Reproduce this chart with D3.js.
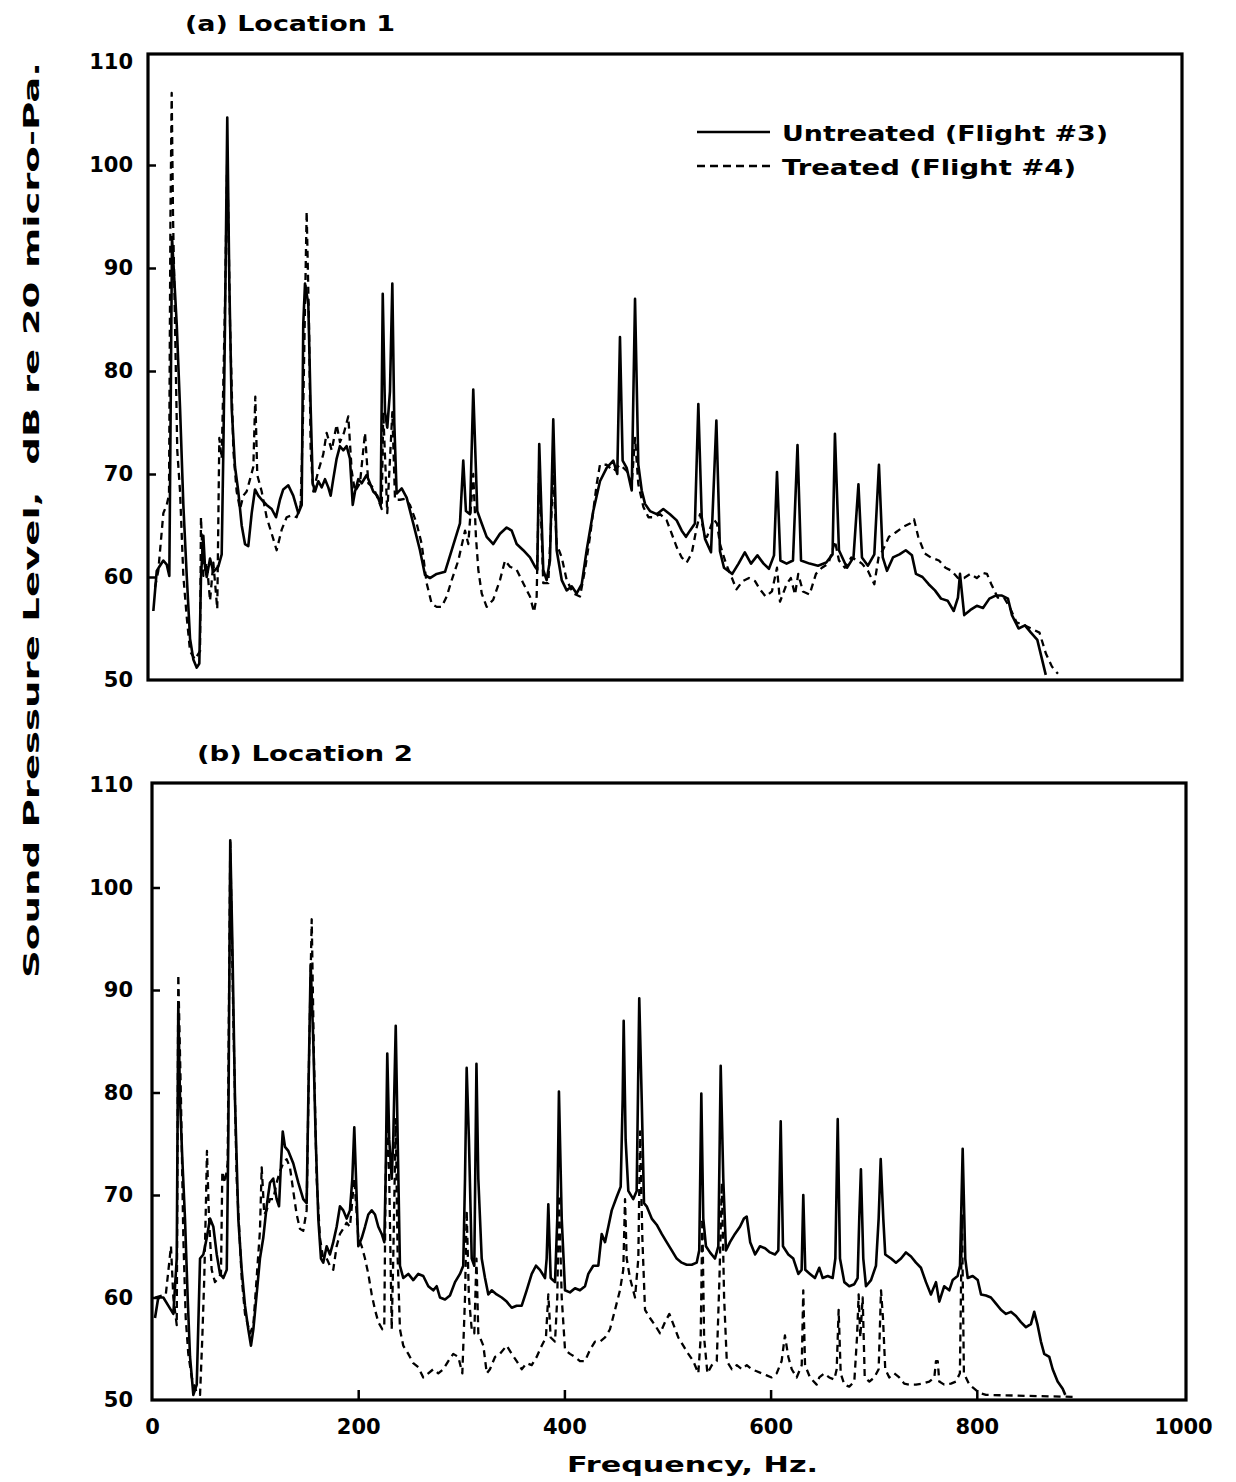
<!DOCTYPE html>
<html><head><meta charset="utf-8">
<script src="https://cdn.jsdelivr.net/npm/d3@7"></script>
<style>body{margin:0;background:#fff} svg{display:block}</style>
</head><body><svg id="c" width="1236" height="1482"></svg>
<script>
// ---- data: [frequency Hz, SPL dB] ----
const xTickValues = [0, 200, 400, 600, 800, 1000];
const yTickValues = [50, 60, 70, 80, 90, 100, 110];
const panelTitles = ["(a) Location 1", "(b) Location 2"];
const seriesNames = ["Untreated (Flight #3)", "Treated (Flight #4)"];

const loc1Untreated = [[1.3,56.7],[4.6,60.6],[7.1,61.0],[11.0,61.6],[14.3,61.2],[16.8,60.1],[18.4,80],[19.4,93],[24.0,84.5],[27.2,76.4],[30.4,67],[33.7,60.1],[36.9,54],[40.1,52],[43.4,51.2],[45.9,51.6],[47.5,60],[49.8,64],[51.4,61],[53.1,60],[56.3,61.8],[59.5,60.5],[64.3,61],[67.6,62.2],[69.2,72.3],[70.8,84.5],[73.0,104.6],[75.0,88.6],[77.3,76.4],[80.5,70.7],[83.7,68.3],[87.0,65],[90.2,63.2],[93.4,63],[96.7,66.2],[99.9,68.5],[103.1,67.9],[106.4,67.5],[111.2,67],[116.1,66.6],[120.3,65.8],[124.1,67.5],[127.3,68.5],[132.2,68.9],[137.0,67.9],[141.9,66.2],[145.2,67],[146.7,84.5],[148.4,88.5],[151.6,86.5],[153.9,76.4],[155.9,69.1],[158.1,68.3],[161.3,69.3],[164.6,68.7],[167.8,69.5],[171.0,68.7],[173.3,67.9],[175.8,69.5],[179.1,71.5],[182.3,72.7],[185.5,72.3],[188.8,72.7],[192.0,71.5],[194.7,67],[196.9,68.3],[200.1,69.5],[203.4,69.1],[208.2,69.9],[211.4,69.1],[214.6,68.3],[218.5,67.9],[221.8,67],[223.8,87.5],[226.0,76],[228.2,74.5],[230.8,78],[233.1,88.5],[235.0,75],[237.3,68.1],[242.2,68.6],[247.0,67.7],[253.4,65.2],[259.9,62.6],[264.8,60.2],[269.6,59.9],[276.1,60.3],[284.2,60.5],[290.7,62.6],[298.7,65.2],[301.9,71.3],[304.5,66.4],[308.4,66.1],[311.6,78.2],[315.5,66.4],[319.8,65.2],[324.6,63.9],[331.0,63.2],[337.5,64.2],[344.0,64.8],[348.9,64.5],[353.7,63.2],[360.1,62.6],[366.6,61.9],[371.5,61.0],[373.7,60.7],[375.6,72.9],[379.5,60.7],[382.8,59.7],[386.0,61.6],[389.2,75.3],[392.5,62.6],[397.4,59.7],[402.2,58.7],[407.1,59.1],[411.9,58.4],[416.8,59.3],[421.6,62.6],[428.0,66.4],[434.5,69.3],[441.0,70.6],[447.4,71.3],[451.3,70.0],[453.9,83.3],[456.5,71.3],[460.4,70.6],[465.3,68.4],[468.5,87.0],[471.7,70.9],[475.0,68.4],[478.2,67.1],[483.0,66.4],[489.5,66.1],[495.9,66.6],[502.4,66.1],[508.9,65.5],[513.8,64.5],[517.9,63.9],[521.8,64.5],[526.6,65.2],[529.9,76.8],[533.2,65.8],[536.4,63.7],[542.2,62.4],[547.4,75.2],[550.9,62.5],[554.8,60.9],[562.8,60.3],[568.9,61.3],[575.0,62.4],[581.0,61.3],[587.2,62.1],[593.2,61.3],[598.4,60.8],[603.3,62.1],[606.2,70.2],[609.5,61.6],[615.5,61.3],[621.7,61.6],[626.1,72.8],[629.5,61.6],[637.8,61.3],[646.0,61.1],[654.0,61.4],[660.1,62.2],[662.4,73.9],[666.3,62.6],[674.1,60.9],[680.4,61.9],[685.2,69.0],[688.6,61.9],[694.4,61.1],[700.6,62.2],[705.1,70.9],[708.8,61.9],[712.9,60.6],[718.7,61.9],[725.0,62.2],[731.1,62.6],[737.1,62.1],[741.0,60.3],[747.3,60.0],[753.3,59.3],[759.4,58.7],[765.3,57.9],[771.7,57.7],[777.6,56.7],[781.7,58.0],[783.7,60.3],[787.8,56.3],[793.8,56.8],[800.0,57.2],[806.0,57.0],[812.2,57.9],[818.2,58.2],[824.4,58.2],[830.2,57.9],[834.1,56.3],[840.5,55.0],[846.7,55.3],[852.5,54.6],[858.7,53.9],[862.8,52.2],[866.9,50.5]];

const loc1Treated = [[2.9,59.0],[6.1,60.6],[11.0,66.2],[14.3,67.0],[16.5,68],[17.9,95],[19.1,107],[20.4,95],[21.6,88.6],[24.5,72.3],[27.2,68.3],[30.4,60.1],[33.7,56.1],[36.9,52.8],[41.7,52.0],[46.6,52.8],[47.5,65.8],[49.8,60.1],[53.1,61.4],[56.3,57.7],[59.5,61.4],[63.3,56.9],[65.3,73.5],[67.6,71.5],[70.8,86.5],[73.0,101],[75.7,84.5],[78.9,72.3],[82.1,68.3],[85.4,66.6],[88.6,67.9],[91.8,68.3],[95.1,69.5],[98.3,70.7],[100.2,77.5],[102.1,69.9],[106.4,68.3],[111.2,65.8],[116.1,64.2],[120.9,62.6],[125.8,64.6],[130.6,65.8],[135.5,66.0],[140.3,65.8],[144.2,67.0],[146.7,76.4],[150.0,95.5],[152.3,84.5],[153.9,72.3],[156.4,68.3],[161.3,70.3],[166.1,71.9],[169.4,74.0],[174.3,72.3],[179.1,74.8],[182.3,73.1],[186.2,74.0],[190.4,75.6],[193.7,70.3],[196.9,68.3],[201.7,69.1],[206.6,74.0],[209.8,69.1],[214.6,68.7],[219.5,67.5],[222.8,66.6],[224.3,76.0],[228.2,66.2],[233.1,76.0],[235.7,67.5],[240.5,67.5],[245.4,67.6],[250.2,67.0],[256.7,65.2],[261.6,63.2],[266.4,59.4],[271.3,57.4],[276.1,57.1],[281.0,57.1],[285.8,58.1],[290.7,59.7],[297.1,61.6],[303.6,64.5],[306.8,63.2],[311.6,70.0],[314.2,63.9],[316.5,60.7],[319.8,58.4],[324.6,57.1],[331.0,57.8],[337.5,59.7],[342.4,61.6],[347.2,61.0],[353.7,60.7],[360.1,59.4],[366.6,58.1],[370.5,56.6],[373.1,58.1],[375.6,71.0],[379.5,59.4],[384.4,59.4],[389.2,70.0],[392.5,63.2],[397.4,61.9],[402.2,59.7],[408.7,58.4],[415.1,58.1],[420.0,60.7],[424.8,63.9],[431.3,69.0],[434.5,70.9],[441.0,70.9],[447.4,70.3],[453.9,70.9],[460.4,70.3],[465.3,69.0],[468.5,73.5],[471.7,69.0],[476.6,66.8],[481.5,65.8],[486.3,65.8],[492.8,66.1],[499.2,65.5],[504.1,64.2],[508.9,62.9],[513.8,61.9],[518.6,61.4],[523.5,62.3],[528.3,64.8],[531.5,66.1],[536.4,63.9],[538.3,63.9],[544.6,65.6],[548.0,65.2],[550.9,63.2],[556.7,61.3],[562.5,59.9],[566.9,58.8],[572.9,59.6],[579.0,59.9],[584.9,59.6],[589.7,58.8],[595.2,58.1],[601.3,58.6],[606.2,60.9],[609.1,57.6],[615.5,59.3],[619.6,59.9],[623.7,58.3],[626.8,60.3],[631.4,58.6],[637.8,58.3],[644.0,60.3],[649.8,60.9],[656.0,61.3],[660.1,62.6],[662.4,63.5],[666.3,61.6],[672.1,60.9],[678.3,61.9],[684.4,61.6],[688.6,61.3],[694.4,60.6],[700.6,59.3],[704.7,61.9],[708.8,62.6],[714.8,63.9],[720.9,64.3],[729.1,64.9],[735.2,65.2],[739.1,65.6],[743.2,63.9],[749.4,62.3],[755.4,61.9],[763.3,61.6],[769.6,60.9],[775.6,60.6],[781.7,59.9],[787.6,59.9],[793.8,60.3],[800.0,59.9],[806.0,60.4],[809.9,60.3],[814.1,59.3],[820.2,58.0],[826.3,58.0],[832.2,57.0],[838.5,55.6],[846.7,55.3],[854.5,54.9],[860.8,54.6],[866.9,52.6],[872.9,51.3],[878.7,50.6]];

const loc2Untreated = [[2.9,58.0],[6.1,60.0],[11.0,60.0],[15.8,59.2],[20.7,58.4],[24.0,63.8],[25.5,88.6],[27.2,79.3],[29.4,73.5],[32.0,67.7],[34.6,60.0],[36.9,54.2],[40.1,50.5],[43.4,51.5],[46.6,63.8],[49.8,64.2],[53.1,65.8],[56.3,67.7],[59.5,66.9],[62.8,64.2],[66.0,62.3],[69.2,61.9],[72.5,62.7],[74.0,75.4],[75.9,104.6],[77.9,94.8],[80.5,79.3],[83.7,67.7],[87.0,62.7],[90.2,59.2],[93.4,56.9],[96.0,55.3],[98.3,56.9],[101.5,60.3],[104.7,63.8],[107.9,65.8],[111.2,68.9],[114.4,71.2],[117.6,71.6],[120.9,69.6],[123.2,68.9],[125.1,73.1],[126.8,76.2],[129.0,74.7],[132.2,74.3],[137.0,73.1],[141.9,71.2],[146.7,69.6],[150.0,69.2],[151.6,79.3],[153.9,92.5],[156.4,85.1],[158.8,75.4],[161.3,67.7],[163.9,63.8],[166.1,63.4],[169.4,65.0],[172.6,64.2],[175.8,65.4],[179.1,66.9],[182.3,68.9],[185.5,68.5],[188.8,67.7],[192.0,68.5],[194.3,71.6],[196.2,76.6],[197.9,71.6],[200.1,65.0],[203.4,65.8],[206.6,66.9],[209.8,68.1],[213.1,68.5],[216.3,68.1],[219.5,66.9],[222.8,66.2],[225.3,65.4],[226.6,71.6],[228.2,83.8],[230.1,75.4],[232.5,71.6],[234.0,75.4],[236.4,86.5],[238.3,75.4],[240.5,63.1],[243.7,61.9],[248.6,62.3],[253.4,61.7],[258.3,62.3],[263.1,62.1],[268.0,61.1],[272.8,60.7],[276.1,61.1],[279.3,60.0],[284.2,59.8],[289.0,60.2],[293.9,61.5],[298.7,62.3],[301.9,63.1],[303.6,71.6],[305.2,82.4],[307.4,75.4],[310.1,63.8],[312.6,63.1],[314.7,82.8],[316.5,71.6],[319.8,63.8],[323.0,61.9],[326.2,60.3],[329.5,60.7],[334.3,60.3],[339.2,60.0],[344.0,59.6],[348.9,59.0],[353.7,59.2],[358.6,59.2],[363.4,60.7],[368.3,62.3],[372.4,63.1],[376.3,62.7],[381.2,61.9],[382.8,63.8],[384.4,69.1],[386.7,61.9],[390.9,61.5],[393.1,67.7],[394.7,80.1],[397.4,67.7],[400.6,60.7],[405.4,60.5],[410.3,60.9],[415.1,60.7],[420.0,61.1],[423.2,62.3],[428.0,63.1],[432.9,63.1],[436.2,66.2],[439.4,65.4],[442.6,66.9],[445.9,68.5],[450.7,69.8],[454.6,70.8],[456.5,79.3],[457.5,87.0],[459.4,75.4],[462.0,70.4],[466.8,69.6],[470.1,70.4],[472.6,89.2],[475.0,79.3],[477.2,69.2],[479.8,68.9],[484.7,67.7],[489.5,67.1],[494.4,66.2],[499.2,65.4],[504.1,64.6],[508.9,63.8],[513.8,63.4],[518.6,63.2],[523.5,63.2],[528.3,63.4],[530.8,64.6],[532.8,79.9],[534.7,67.7],[537.3,65.0],[541.2,64.4],[546.0,63.8],[549.3,65.0],[551.6,82.6],[554.1,71.6],[556.7,64.6],[560.6,65.4],[565.4,66.2],[570.3,66.9],[574.1,67.7],[576.8,67.9],[580.2,65.4],[585.0,64.2],[589.7,65.0],[594.6,64.8],[599.4,64.4],[604.3,64.2],[607.5,64.6],[609.8,77.2],[612.0,65.0],[617.2,64.2],[622.0,63.8],[626.9,62.3],[630.1,62.7],[631.7,70.0],[633.6,62.7],[638.2,62.3],[643.0,61.9],[647.2,62.9],[650.5,61.9],[655.4,62.1],[660.2,61.9],[662.8,63.8],[665.1,77.4],[667.3,63.8],[671.5,61.5],[676.3,61.1],[681.2,61.3],[684.4,61.9],[686.0,67.7],[687.6,72.5],[689.9,63.8],[692.5,61.1],[697.4,61.7],[702.2,63.1],[704.8,67.7],[706.8,73.5],[709.3,67.7],[711.2,64.2],[716.8,63.8],[721.6,63.4],[726.5,63.8],[731.3,64.4],[736.2,64.0],[741.0,63.4],[745.8,62.9],[750.7,61.5],[755.5,60.3],[760.4,61.5],[763.6,59.6],[768.4,61.1],[773.3,60.7],[776.6,61.7],[781.4,62.1],[783.7,63.1],[786.3,74.5],[788.8,63.8],[791.2,61.9],[796.0,62.1],[800.9,61.7],[804.1,60.3],[808.9,60.2],[813.7,60.0],[818.6,59.4],[823.4,58.8],[828.3,58.4],[833.1,58.6],[838.0,58.2],[842.8,57.6],[847.7,57.1],[852.5,57.4],[855.7,58.6],[859.0,57.3],[862.2,55.7],[865.4,54.5],[870.3,54.2],[873.6,53.0],[878.4,51.8],[883.3,51.1],[885.8,50.5]];

const loc2Treated = [[2.9,60.0],[13.4,60.3],[18.4,65.0],[20.7,60.0],[24.0,57.3],[25.5,91.5],[28.1,79.3],[30.4,65.8],[32.7,58.0],[35.2,54.5],[38.5,52.2],[43.4,50.7],[46.6,50.5],[48.8,56.1],[50.7,61.9],[52.4,69.6],[53.3,74.3],[55.3,67.7],[57.9,62.7],[61.1,61.5],[64.3,61.9],[66.9,62.3],[68.2,72.3],[70.8,71.2],[73.4,73.1],[75.9,104.4],[78.9,87.0],[82.1,71.6],[87.0,61.9],[90.2,58.4],[95.1,56.5],[98.3,57.3],[101.5,61.9],[104.7,66.5],[106.4,72.7],[108.9,68.1],[111.2,68.5],[114.4,69.6],[117.6,69.6],[120.9,71.2],[124.1,72.3],[127.3,73.1],[130.6,73.5],[133.8,72.7],[137.0,70.4],[140.3,68.1],[143.5,66.7],[146.7,66.5],[150.0,68.5],[152.3,83.2],[154.9,96.9],[157.1,83.2],[159.7,71.6],[162.9,65.8],[166.1,63.8],[169.4,63.8],[172.6,63.1],[175.8,62.7],[179.1,65.0],[182.3,66.2],[185.5,66.7],[188.8,67.3],[192.0,66.9],[196.2,71.6],[200.1,65.8],[203.4,65.0],[206.6,63.8],[209.8,62.3],[213.1,60.3],[216.3,58.8],[219.5,57.6],[223.4,56.9],[225.3,57.3],[226.6,71.6],[228.2,77.0],[230.1,71.6],[232.5,56.9],[234.0,63.8],[236.4,77.4],[238.3,63.8],[240.5,56.9],[243.7,55.3],[248.6,54.5],[253.4,53.6],[258.3,53.2],[263.1,52.2],[268.0,52.6],[272.8,53.0],[277.7,52.6],[282.5,53.0],[287.4,53.8],[292.2,54.5],[297.1,54.2],[301.0,52.6],[303.6,60.0],[305.2,68.5],[307.4,60.0],[310.1,56.9],[312.6,56.5],[314.7,63.8],[316.5,56.5],[319.8,55.7],[321.4,55.3],[324.7,52.6],[327.8,53.0],[332.7,54.2],[337.5,54.5],[344.0,55.3],[348.9,54.5],[353.7,53.8],[358.6,53.0],[363.4,53.6],[368.3,53.4],[373.1,54.2],[378.0,55.3],[382.1,56.1],[384.4,60.3],[386.7,56.1],[390.9,55.7],[393.1,60.0],[394.7,70.0],[397.4,60.0],[400.6,54.9],[405.4,54.5],[410.3,54.2],[415.1,53.8],[420.0,53.8],[424.8,54.9],[429.7,55.7],[434.5,55.7],[439.4,56.1],[444.2,56.9],[449.1,58.8],[453.9,60.7],[457.1,62.7],[458.8,69.6],[460.4,63.8],[463.6,61.9],[468.5,60.0],[471.7,63.8],[473.4,76.2],[475.6,65.8],[478.2,58.8],[483.0,58.0],[487.9,57.3],[492.8,56.5],[497.6,57.6],[501.8,58.4],[505.6,57.4],[510.5,56.1],[515.3,55.3],[520.2,54.5],[525.0,53.8],[529.9,52.6],[532.2,56.1],[533.8,67.7],[535.5,56.1],[538.7,52.6],[543.0,53.4],[547.8,53.8],[550.4,61.9],[552.7,71.2],[554.9,60.0],[557.5,53.8],[562.4,53.0],[567.2,53.4],[572.1,53.0],[576.9,53.4],[581.6,53.0],[586.5,52.8],[591.3,52.6],[596.2,52.4],[601.0,52.2],[605.9,52.6],[610.7,53.8],[613.9,56.3],[617.2,54.2],[620.5,53.0],[625.3,52.2],[630.2,53.4],[631.7,60.7],[633.4,53.4],[638.2,52.2],[644.7,51.5],[647.2,52.2],[652.1,52.6],[656.9,52.2],[661.8,52.0],[664.1,53.0],[666.0,58.8],[668.0,52.6],[671.5,51.5],[676.3,51.3],[681.2,51.8],[683.8,56.1],[685.4,60.3],[687.0,56.1],[689.3,60.0],[691.3,52.2],[695.8,51.8],[700.6,52.2],[704.8,53.0],[707.1,60.7],[709.0,58.0],[711.2,53.0],[715.1,52.2],[719.9,52.6],[724.8,52.2],[729.6,51.6],[734.5,51.5],[741.0,51.5],[747.5,51.6],[753.9,51.8],[758.8,52.2],[760.4,53.8],[762.1,53.8],[763.6,51.8],[768.4,51.5],[774.9,51.6],[779.7,51.8],[783.6,52.6],[785.6,68.0],[787.5,52.6],[792.7,51.5],[797.5,51.1],[802.4,50.7],[808.9,50.5],[850,50.4],[895,50.3]];

// ---- drawing ----
const FONT = "'DejaVu Sans', sans-serif";
const svg = d3.select('#c');
const x = d3.scaleLinear().domain([0, 1000]).range([152, 1183]);

const panels = [
  { title: panelTitles[0], tx: 185, ty: 31, tw: 210,
    y: d3.scaleLinear().domain([50, 110]).range([680, 62]),
    frame: {l: 148, t: 54, r: 1182, b: 680}, pad: 15,
    u: loc1Untreated, tr: loc1Treated, xLabels: false },
  { title: panelTitles[1], tx: 197, ty: 761, tw: 216,
    y: d3.scaleLinear().domain([50, 110]).range([1400, 785]),
    frame: {l: 152, t: 783, r: 1186, b: 1400}, pad: 19,
    u: loc2Untreated, tr: loc2Treated, xLabels: true }
];

panels.forEach(p => {
  const g = svg.append('g');
  // title
  g.append('text').attr('x', p.tx).attr('y', p.ty)
    .attr('font-family', FONT).attr('font-size', 22).attr('font-weight', 'bold')
    .attr('textLength', p.tw).attr('lengthAdjust', 'spacingAndGlyphs')
    .text(p.title);

  // y axis (inner ticks, labels left)
  const ay = d3.axisLeft(p.y).tickValues(yTickValues).tickSize(-8).tickPadding(p.pad)
    .tickFormat(d3.format('d'));
  const gy = g.append('g').attr('transform', `translate(${p.frame.l},0)`).call(ay);
  gy.select('.domain').remove();
  gy.selectAll('.tick line').attr('stroke', '#000').attr('stroke-width', 2.5)
    .filter(d => d === 50 || d === 110).remove();
  gy.selectAll('.tick text').attr('font-family', FONT).attr('font-size', 21)
    .attr('font-weight', 'bold').attr('fill', '#000');

  if (p.xLabels) {
    const ax = d3.axisBottom(x).tickValues(xTickValues).tickSize(-10).tickPadding(19)
      .tickFormat(d3.format('d'));
    const gx = g.append('g').attr('transform', `translate(0,${p.frame.b})`).call(ax);
    gx.select('.domain').remove();
    gx.selectAll('.tick line').attr('stroke', '#000').attr('stroke-width', 2.5)
      .filter(d => d === 0 || d === 1000).remove();
    gx.selectAll('.tick text').attr('font-family', FONT).attr('font-size', 21)
      .attr('font-weight', 'bold').attr('fill', '#000');
  }

  const line = d3.line().x(d => x(d[0])).y(d => p.y(d[1]));
  g.append('path').datum(p.tr).attr('d', line).attr('fill', 'none')
    .attr('stroke', '#000').attr('stroke-width', 2.3).attr('stroke-dasharray', '7,5')
    .attr('stroke-linejoin', 'round');
  g.append('path').datum(p.u).attr('d', line).attr('fill', 'none')
    .attr('stroke', '#000').attr('stroke-width', 2.6).attr('stroke-linejoin', 'round');

  // frame
  g.append('rect').attr('x', p.frame.l).attr('y', p.frame.t)
    .attr('width', p.frame.r - p.frame.l).attr('height', p.frame.b - p.frame.t)
    .attr('fill', 'none').attr('stroke', '#000').attr('stroke-width', 3.2);
});

// legend (panel a)
const lg = svg.append('g');
[[132, null, 141, 326], [166, '8,5', 175, 294]].forEach((r, i) => {
  lg.append('line').attr('x1', 697).attr('x2', 770).attr('y1', r[0]).attr('y2', r[0])
    .attr('stroke', '#000').attr('stroke-width', 2.6)
    .attr('stroke-dasharray', r[1]);
  lg.append('text').attr('x', 782).attr('y', r[2])
    .attr('font-family', FONT).attr('font-size', 22).attr('font-weight', 'bold')
    .attr('textLength', r[3]).attr('lengthAdjust', 'spacingAndGlyphs')
    .text(seriesNames[i]);
});

// axis titles
svg.append('text').attr('x', 567).attr('y', 1472)
  .attr('font-family', FONT).attr('font-size', 22).attr('font-weight', 'bold')
  .attr('textLength', 251).attr('lengthAdjust', 'spacingAndGlyphs')
  .text('Frequency,  Hz.');
svg.append('text').attr('transform', 'translate(39,978) rotate(-90)')
  .attr('font-family', FONT).attr('font-size', 22).attr('font-weight', 'bold')
  .attr('textLength', 916).attr('lengthAdjust', 'spacingAndGlyphs')
  .attr('xml:space', 'preserve')
  .text('Sound Pressure Level,  dB re 20 micro-Pa.');
</script>
</body></html>
